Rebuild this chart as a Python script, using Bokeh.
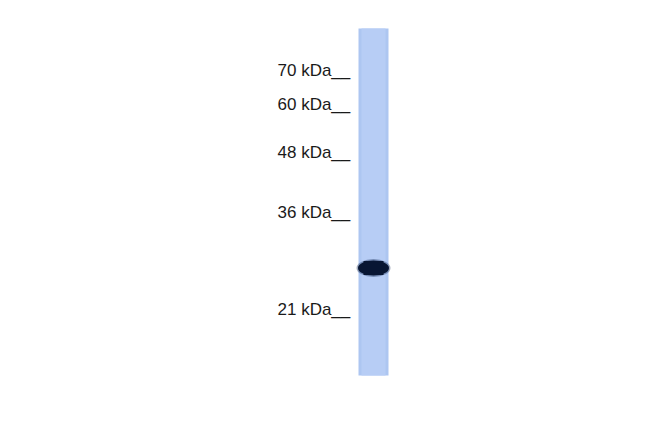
from bokeh.core.properties import value
from bokeh.embed import file_html
from bokeh.models import ColumnDataSource, Range1d
from bokeh.plotting import figure
from bokeh.resources import INLINE

# marker ladder (label, baseline, in pixels)
marker_labels = ["70 kDa", "60 kDa", "48 kDa", "36 kDa", "21 kDa"]
marker_y = [70, 104, 152, 212, 309]

# single lane and its one band
lane_x = [373]
lane_top = [28]
lane_bottom = [375]
band_y = [267.5]

W, H = 634, 416

p = figure(width=W, height=H, output_backend="svg", toolbar_location=None,
           x_range=Range1d(0, W), y_range=Range1d(H, 0),
           min_border=0)
p.axis.visible = False
p.grid.visible = False
p.outline_line_color = None
p.background_fill_color = "white"
p.border_fill_color = "white"

# lane: slightly darker edges, lighter middle
lane = ColumnDataSource(dict(x=lane_x, top=lane_top, bottom=lane_bottom))
p.vbar(x="x", top="top", bottom="bottom", width=30, source=lane,
       fill_color="#adc6f1", line_color=None)
p.vbar(x="x", top="top", bottom="bottom", width=24, source=lane,
       fill_color="#b7cdf5", line_color=None)

# band: soft halo, flattened dark core
band = ColumnDataSource(dict(x=lane_x, y=band_y))
p.ellipse(x="x", y="y", width=34, height=18, source=band,
          fill_color="#1a2f5a", fill_alpha=0.4, line_color=None)
p.ellipse(x="x", y="y", width=31, height=15, source=band,
          fill_color="#081633", line_color=None)
p.rect(x="x", y="y", width=20, height=14, source=band,
       fill_color="#081633", line_color=None)

labels = ColumnDataSource(dict(x=[277] * len(marker_labels), y=marker_y,
                               t=[s + "__" for s in marker_labels]))
p.text(x="x", y="y", text="t", source=labels, text_font=value("Liberation Sans"),
       text_font_size="17px", text_color="#1a1a1a", text_align="left",
       text_baseline="alphabetic")

open("out.html", "w").write(file_html(p, INLINE))
